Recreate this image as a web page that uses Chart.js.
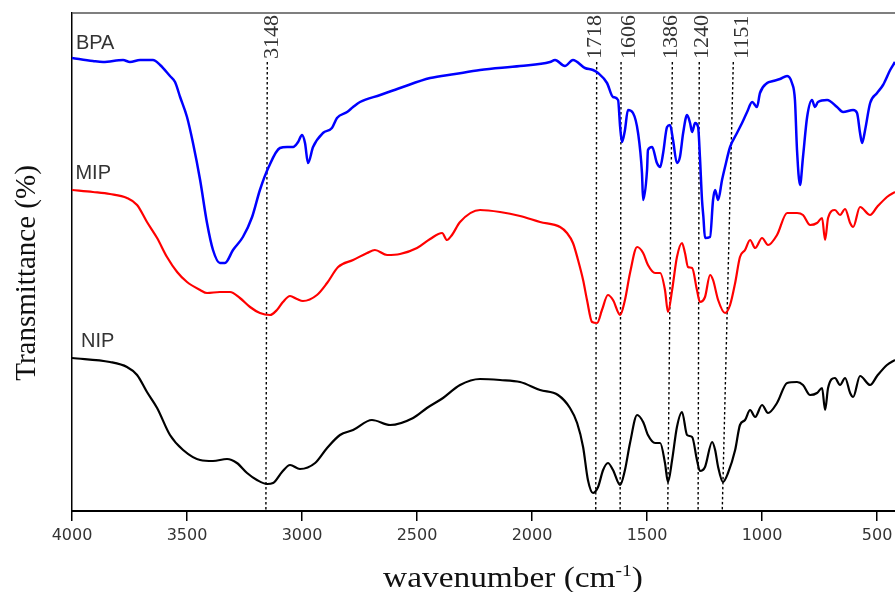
<!DOCTYPE html>
<html>
<head>
<meta charset="utf-8">
<title>FTIR spectra</title>
<script src="https://cdn.jsdelivr.net/npm/chart.js@4.4.0/dist/chart.umd.min.js"></script>
<style>
  html, body { margin: 0; padding: 0; background: #fff; }
  #wrap { width: 895px; height: 592px; }
</style>
</head>
<body>
<div id="wrap"><canvas id="ftir" width="895" height="592"></canvas></div>
<script>
//Tick labels on the wavenumber axis
const xTicks = [4000, 3500, 3000, 2500, 2000, 1500, 1000, 500];

//BPA spectrum (wavenumber, transmittance in arbitrary units)
const bpaWave = [4000,3909,3865,3778,3748,3704,3648,3617,3574,3552,3530,3500,3474,3443,3413,3387,3357,3335,3300,3257,3217,3183,3145,3096,3065,3039,3017,3000,2987,2974,2952,2909,2870,2848,2804,2778,2748,2660,2574,2443,2335,2226,2052,1922,1900,1857,1822,1770,1735,1713,1674,1648,1626,1617,1609,1596,1583,1561,1539,1522,1517,1500,1496,1478,1457,1443,1430,1413,1400,1387,1370,1357,1343,1326,1313,1304,1291,1278,1270,1261,1255,1248,1226,1213,1204,1191,1174,1161,1139,1109,1087,1065,1043,1022,1009,978,952,922,891,870,857,848,835,822,804,783,770,757,717,674,648,604,587,574,565,552,530,500,474,443,422];
const bpaT = [453,450,449,451,449,451,451,446,435,429,414,394,368,331,288,261,248,248,261,274,294,321,344,363,364,364,369,376,368,348,364,378,383,393,399,404,409,416,423,433,437,441,445,449,451,445,451,443,441,438,428,414,411,384,369,381,401,398,378,338,311,341,361,364,348,344,358,384,386,371,348,354,378,396,388,379,388,384,354,311,294,273,274,311,321,311,331,344,364,378,388,399,409,404,418,428,430,432,435,428,411,361,326,354,394,411,404,409,411,404,399,401,398,378,368,381,408,418,426,441,449];

//MIP spectrum
const mipWave = [4000,3909,3835,3761,3717,3674,3630,3587,3543,3500,3443,3413,3357,3313,3270,3226,3183,3139,3109,3083,3052,3022,2996,2935,2891,2843,2778,2717,2683,2630,2574,2500,2443,2391,2370,2348,2313,2226,2139,2052,1965,1878,1848,1822,1800,1778,1761,1739,1717,1696,1670,1648,1617,1596,1574,1543,1517,1496,1465,1443,1422,1409,1391,1370,1348,1335,1322,1304,1283,1270,1248,1226,1213,1191,1161,1139,1117,1096,1074,1052,1030,1000,974,935,891,848,822,791,761,739,726,713,683,661,639,617,604,574,530,500,457,422];
const mipT = [321,319,317,313,306,289,273,254,239,229,221,218,219,219,213,204,198,196,201,209,215,212,210,216,228,244,251,258,261,256,257,263,272,278,271,276,289,301,299,295,289,284,278,268,251,231,211,189,188,201,216,211,196,211,238,264,258,246,238,238,221,199,221,254,268,258,244,243,221,209,214,236,231,211,198,206,228,254,261,271,263,273,266,276,298,298,296,286,288,293,271,293,301,296,302,288,284,304,296,304,314,319];

//NIP spectrum
const nipWave = [4000,3835,3761,3717,3674,3630,3574,3517,3443,3387,3326,3283,3239,3196,3152,3126,3087,3052,3009,2943,2891,2835,2778,2696,2617,2517,2457,2387,2313,2226,2139,2052,1965,1887,1835,1804,1778,1757,1735,1713,1691,1670,1648,1617,1596,1574,1543,1517,1496,1465,1443,1422,1409,1391,1370,1348,1326,1304,1283,1270,1248,1217,1204,1191,1170,1148,1117,1096,1074,1052,1030,1000,974,935,891,848,822,791,761,739,726,713,683,661,639,617,604,574,530,500,457,422];
const nipT = [153,149,144,136,119,103,76,61,51,50,52,48,38,31,27,28,39,46,42,48,63,76,81,91,86,93,103,113,126,132,131,129,121,116,103,88,64,31,18,24,41,48,41,26,41,68,96,89,76,68,68,48,29,51,84,99,76,74,51,40,44,69,61,44,29,38,61,86,91,101,94,106,98,108,128,129,126,116,118,123,101,123,133,126,133,118,114,135,126,135,146,151];

//Marked peaks: dotted guide lines (top and bottom end) and their labels
const peakLabels = ["3148", "1718", "1606", "1386", "1240", "1151"];
const peakTopWave = [3151, 1719, 1613, 1390, 1273, 1125];
const peakBottomWave = [3157, 1723, 1617, 1410, 1278, 1173];
const peakLabelWave = [3130, 1726, 1578, 1396, 1261, 1087];
const peakTopT = 449;
const peakBottomT = 1;

//Sample names written next to each curve
const sampleNames = ["BPA", "MIP", "NIP"];
const sampleNameWave = [3983, 3985, 3961];
const sampleNameT = [468, 338, 170];

function toPoints(waves, values) {
  return waves.map((w, i) => ({ x: w, y: values[i] }));
}

let datasets = [
  { label: "BPA", data: toPoints(bpaWave, bpaT), borderColor: "#0000ff", borderWidth: 2.5, cubicInterpolationMode: "monotone", order: 1 },
  { label: "MIP", data: toPoints(mipWave, mipT), borderColor: "#ff0000", borderWidth: 2.2, cubicInterpolationMode: "monotone", order: 2 },
  { label: "NIP", data: toPoints(nipWave, nipT), borderColor: "#000000", borderWidth: 2.2, cubicInterpolationMode: "monotone", order: 3 },
];
for (let i in peakLabels) {
  datasets.push({
    label: "peak " + peakLabels[i],
    data: [{ x: peakTopWave[i], y: peakTopT }, { x: peakBottomWave[i], y: peakBottomT }],
    borderColor: "#000",
    borderWidth: 1.4,
    borderDash: [2.5, 2.5],
    order: 10,
  });
}

//Texts drawn on top: frame line, peak labels, sample names, axis titles
const overlayPlugin = {
  id: "overlay",
  afterDraw(chart) {
    const { ctx, chartArea, scales } = chart;
    const xs = scales.x, ys = scales.y;
    ctx.save();
    ctx.strokeStyle = "#555";
    ctx.lineWidth = 1.5;
    ctx.beginPath();
    ctx.moveTo(chartArea.left, chartArea.top);
    ctx.lineTo(chartArea.right, chartArea.top);
    ctx.stroke();

    // peak labels, rotated
    ctx.fillStyle = "#333";
    ctx.font = '22px "Liberation Serif"';
    ctx.textAlign = "left";
    ctx.textBaseline = "middle";
    for (let i in peakLabels) {
      ctx.save();
      ctx.translate(xs.getPixelForValue(peakLabelWave[i]), ys.getPixelForValue(peakTopT) - 3);
      ctx.rotate(-Math.PI / 2);
      ctx.fillText(peakLabels[i], 0, 0);
      ctx.restore();
    }

    // sample names
    ctx.font = '20px "Liberation Sans"';
    for (let i in sampleNames) {
      ctx.fillText(sampleNames[i], xs.getPixelForValue(sampleNameWave[i]), ys.getPixelForValue(sampleNameT[i]));
    }

    // y title
    ctx.fillStyle = "#111";
    ctx.font = '29px "Liberation Serif"';
    ctx.textAlign = "center";
    ctx.save();
    ctx.translate(27, 273);
    ctx.rotate(-Math.PI / 2);
    ctx.fillText("Transmittance (%)", 0, 0);
    ctx.restore();

    // x title with superscript
    const main = "wavenumber (cm", sup = "-1", end = ")";
    const bigFont = '29px "Liberation Serif"', smallFont = '17px "Liberation Serif"';
    ctx.font = bigFont;
    const wMain = ctx.measureText(main).width, wEnd = ctx.measureText(end).width;
    ctx.font = smallFont;
    const wSup = ctx.measureText(sup).width;
    const total = wMain + wSup + wEnd;
    ctx.save();
    ctx.translate(513, 587);
    ctx.scale(1.15, 1);
    ctx.textAlign = "left";
    ctx.textBaseline = "alphabetic";
    let xPos = -total / 2;
    ctx.font = bigFont;
    ctx.fillText(main, xPos, 0);
    xPos += wMain;
    ctx.font = smallFont;
    ctx.fillText(sup, xPos, -11);
    xPos += wSup;
    ctx.font = bigFont;
    ctx.fillText(end, xPos, 0);
    ctx.restore();
    ctx.restore();
  },
};

const chart = new Chart(document.getElementById("ftir"), {
  type: "line",
  data: { datasets: datasets },
  options: {
    responsive: false,
    animation: false,
    layout: { padding: { top: 13, right: 0, left: 0, bottom: 0 } },
    elements: { point: { radius: 0 }, line: { tension: 0 } },
    plugins: { legend: { display: false }, tooltip: { enabled: false } },
    scales: {
      x: {
        type: "linear",
        reverse: true,
        min: 422,
        max: 4000,
        afterBuildTicks: (axis) => {
          axis.ticks = xTicks.map((v) => ({ value: v }));
        },
        afterFit: (axis) => {
          axis.height = 81;
          axis.paddingLeft = 0;
          axis.paddingRight = 0;
        },
        grid: { display: true, drawOnChartArea: false, drawTicks: true, tickLength: 10, color: "#000", lineWidth: 1.5 },
        border: { display: true, color: "#000", width: 2 },
        ticks: {
          color: "#333",
          font: { family: "DejaVu Sans", size: 16 },
          padding: 5,
          maxRotation: 0,
          autoSkip: false,
          callback: (v) => String(v),
        },
      },
      y: {
        min: 0,
        max: 498,
        afterFit: (axis) => {
          axis.width = 72;
        },
        grid: { display: false },
        border: { display: true, color: "#000", width: 1.5 },
        ticks: { display: false },
      },
    },
  },
  plugins: [overlayPlugin],
});
</script>
</body>
</html>
